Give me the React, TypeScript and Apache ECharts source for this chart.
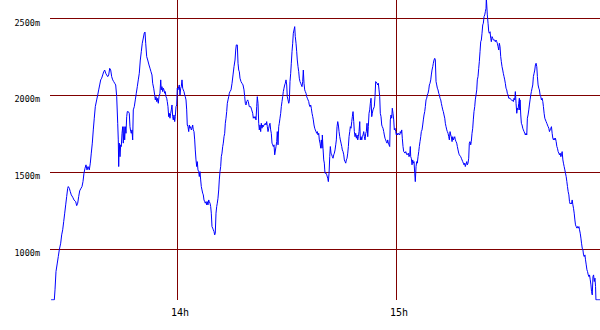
import React, { useEffect, useRef } from "react";
import * as echarts from "echarts";

// time in minutes after 13:00
const minutes = [
  25.5, 26.39, 26.58, 26.85, 27.21, 27.48, 27.76, 28.14, 28.41, 28.69,
  28.96, 29.24, 29.51, 29.78, 30.06, 30.22, 30.5, 30.77, 31.04, 31.43,
  31.78, 32.25, 32.52, 32.8, 33.07, 33.34, 33.62, 33.98, 34.25, 34.52,
  34.8, 35.07, 35.35, 35.62, 35.98, 36.25, 36.52, 36.8, 37.07, 37.34,
  37.62, 38.0, 38.28, 38.55, 38.82, 39.1, 39.37, 39.65, 39.92, 40.19,
  40.47, 40.74, 41.02, 41.29, 41.56, 41.84, 42.11, 42.39, 42.66, 42.93,
  43.21, 43.48, 43.76, 43.92, 44.03, 44.19, 44.39, 44.58, 44.74, 44.94,
  45.13, 45.29, 45.48, 45.67, 45.84, 46.03, 46.22, 46.39, 46.66, 46.93,
  47.12, 47.32, 47.48, 47.67, 47.86, 48.03, 48.3, 48.58, 48.85, 49.13,
  49.4, 49.67, 49.95, 50.22, 50.49, 50.77, 51.04, 51.24, 51.43, 51.7,
  51.98, 52.33, 52.6, 52.88, 53.15, 53.34, 53.62, 53.89, 54.06, 54.25,
  54.44, 54.61, 54.88, 55.07, 55.34, 55.54, 55.7, 55.89, 56.08, 56.25,
  56.44, 56.63, 56.79, 56.99, 57.18, 57.34, 57.53, 57.73, 57.89, 58.08,
  58.27, 58.44, 58.63, 58.82, 58.99, 59.18, 59.37, 59.53, 59.73, 59.92,
  60.08, 60.27, 60.47, 60.63, 60.82, 61.01, 61.18, 61.37, 61.56, 61.73,
  61.92, 62.11, 62.27, 62.47, 62.66, 62.82, 63.01, 63.21, 63.37, 63.56,
  63.75, 63.92, 64.11, 64.3, 64.47, 64.66, 64.85, 65.01, 65.21, 65.4,
  65.56, 65.75, 65.95, 66.11, 66.3, 66.49, 66.66, 66.85, 67.04, 67.21,
  67.4, 67.59, 67.75, 67.95, 68.14, 68.3, 68.49, 68.69, 68.85, 69.04,
  69.23, 69.4, 69.59, 69.78, 69.95, 70.14, 70.33, 70.49, 70.69, 70.88,
  71.04, 71.23, 71.43, 71.59, 71.78, 71.97, 72.14, 72.33, 72.52, 72.69,
  72.88, 73.07, 73.24, 73.43, 73.62, 73.79, 73.98, 74.17, 74.34, 74.52,
  74.8, 75.08, 75.35, 75.62, 75.9, 76.09, 76.25, 76.53, 76.72, 76.91,
  77.08, 77.26, 77.54, 77.81, 78.09, 78.36, 78.55, 78.72, 78.91, 79.1,
  79.37, 79.54, 79.81, 80.19, 80.47, 80.74, 80.91, 81.1, 81.29, 81.45,
  81.65, 81.84, 82.0, 82.2, 82.39, 82.55, 82.74, 82.93, 83.1, 83.29,
  83.48, 83.65, 83.84, 84.2, 84.39, 84.58, 84.75, 84.94, 85.13, 85.3,
  85.48, 85.67, 85.84, 86.03, 86.22, 86.39, 86.58, 86.77, 86.93, 87.13,
  87.32, 87.48, 87.68, 87.87, 88.03, 88.22, 88.41, 88.58, 88.77, 88.96,
  89.13, 89.32, 89.51, 89.67, 89.87, 90.06, 90.22, 90.42, 90.61, 90.77,
  90.96, 91.15, 91.32, 91.51, 91.7, 91.87, 92.06, 92.25, 92.41, 92.61,
  92.8, 92.96, 93.16, 93.35, 93.51, 93.7, 93.89, 94.06, 94.25, 94.44,
  94.61, 94.8, 94.99, 95.16, 95.35, 95.54, 95.71, 95.9, 96.09, 96.25,
  96.45, 96.64, 96.8, 97.0, 97.19, 97.35, 97.54, 97.73, 97.9, 98.09,
  98.28, 98.45, 98.64, 98.83, 99.0, 99.19, 99.38, 99.54, 99.74, 99.82,
  100.01, 100.2, 100.37, 100.48, 100.56, 100.84, 101.03, 101.3, 101.47, 101.66,
  101.85, 102.01, 102.2, 102.4, 102.56, 102.75, 102.94, 103.11, 103.3, 103.49,
  103.66, 103.85, 104.04, 104.21, 104.4, 104.59, 104.75, 104.95, 105.14, 105.3,
  105.49, 105.69, 105.85, 106.04, 106.23, 106.4, 106.59, 106.78, 106.95, 107.14,
  107.33, 107.49, 107.68, 107.88, 108.04, 108.23, 108.42, 108.59, 108.78, 108.97,
  109.14, 109.33, 109.52, 109.69, 109.88, 110.07, 110.23, 110.42, 110.62, 110.78,
  110.97, 111.16, 111.33, 111.52, 111.71, 111.87, 112.06, 112.26, 112.42, 112.61,
  112.8, 112.97, 113.16, 113.35, 113.51, 113.7, 114.06, 114.25, 114.44, 114.61,
  114.8, 114.99, 115.16, 115.35, 115.54, 115.7, 115.9, 116.09, 116.25, 116.44,
  116.64, 116.8, 116.99, 117.18, 117.35, 117.54, 117.73, 117.9, 118.09, 118.28,
  118.44, 118.64, 118.83, 118.99, 119.18, 119.38, 119.54, 119.73, 119.92, 120.09,
  120.28, 120.47, 120.64, 121.02, 121.18, 121.38, 121.57, 121.73, 121.92, 122.12,
  122.28, 122.47, 122.66, 122.83, 123.02, 123.38, 123.57, 123.76, 123.92, 124.03,
  124.2, 124.39, 124.58, 124.75, 124.94, 125.13, 125.29, 125.49, 125.68, 125.84,
  126.04, 126.23, 126.39, 126.58, 126.78, 126.94, 127.13, 127.32, 127.49, 127.68,
  127.87, 128.04, 128.23, 128.42, 128.59, 128.78, 128.97, 129.14, 129.32, 129.52,
  129.68, 129.87, 130.07, 130.23, 130.42, 130.61, 130.78, 130.97, 131.16, 131.33,
  131.52, 131.71, 131.88, 132.07, 132.26, 132.42, 132.62, 132.81, 132.97, 133.16,
  133.36, 133.52, 133.71, 133.91, 134.07, 134.26, 134.45, 134.62, 134.81, 135.0,
  135.16, 135.36, 135.55, 135.71, 136.09, 136.26, 136.45, 136.64, 136.81, 137.0,
  137.19, 137.35, 137.73, 137.9, 138.09, 138.28, 138.45, 138.64, 138.83, 138.99,
  139.18, 139.38, 139.54, 139.73, 139.92, 140.09, 140.28, 140.47, 140.63, 140.83,
  141.02, 141.18, 141.37, 141.57, 141.73, 141.92, 142.12, 142.28, 142.47, 142.66,
  142.83, 143.02, 143.21, 143.38, 143.57, 143.76, 143.93, 144.12, 144.31, 144.48,
  144.67, 144.75, 144.94, 145.02, 145.22, 145.41, 145.57, 145.77, 145.96, 146.12,
  146.31, 146.51, 146.67, 147.05, 147.22, 147.41, 147.6, 147.76, 147.96, 148.15,
  148.31, 148.5, 148.69, 148.86, 149.05, 149.24, 149.4, 149.6, 149.79, 149.95,
  150.15, 150.34, 150.5, 150.7, 150.89, 151.24, 151.6, 151.8, 151.99, 152.15,
  152.34, 152.54, 152.7, 152.89, 153.09, 153.25, 153.44, 153.63, 153.8, 153.91,
  153.99, 154.18, 154.35, 154.54, 154.73, 154.9, 155.09, 155.28, 155.44, 155.64,
  155.83, 155.99, 156.18, 156.38, 156.54, 156.73, 156.92, 157.09, 157.28, 157.47,
  157.64, 157.83, 158.02, 158.19, 158.38, 158.57, 158.74, 158.93, 159.12, 159.29,
  159.48, 159.67, 159.84, 160.03, 160.22, 160.39, 160.58, 160.77, 161.13, 161.32,
  161.49, 161.68, 161.87, 162.04, 162.23, 162.42, 162.59, 162.78, 162.97, 163.14,
  163.33, 163.52, 163.68, 163.88, 164.07, 164.23, 164.43, 164.62, 164.78, 164.97,
  165.17, 165.33, 165.52, 165.72, 165.88, 166.07, 166.26, 166.43, 166.62, 166.81,
  166.98, 167.17, 167.36, 167.53, 167.72, 167.91, 168.08, 168.27, 168.46, 168.63,
  168.82, 169.01, 169.18, 169.37, 169.56, 169.73, 169.92, 170.11, 170.28, 170.47,
  170.66, 170.83, 171.02, 171.21, 171.38, 171.57, 171.76, 171.92, 172.12, 172.31,
  172.47, 172.67, 172.86, 173.02, 173.22, 173.41, 173.57, 173.77, 173.96, 174.13,
  174.32, 174.51, 174.67, 174.78, 175.89,
];

// altitude in metres
const altitudes = [
  669, 669, 734, 853, 908, 950, 994, 1037, 1091, 1124,
  1177, 1232, 1286, 1340, 1394, 1405, 1394, 1372, 1351, 1336,
  1318, 1307, 1281, 1297, 1340, 1377, 1390, 1405, 1437, 1492,
  1524, 1546, 1513, 1535, 1513, 1557, 1622, 1687, 1773, 1849,
  1924, 1968, 2000, 2033, 2065, 2098, 2109, 2130, 2151, 2162,
  2141, 2130, 2119, 2130, 2173, 2162, 2119, 2098, 2087, 2076,
  2065, 1989, 1816, 1708, 1535, 1687, 1599, 1676, 1665, 1751,
  1794, 1687, 1794, 1708, 1794, 1751, 1859, 1892, 1892, 1881,
  1794, 1762, 1751, 1773, 1708, 1903, 1924, 1968, 2011, 2054,
  2098, 2141, 2227, 2281, 2336, 2370, 2403, 2409, 2336, 2249,
  2227, 2195, 2174, 2151, 2130, 2076, 2044, 2000, 1968, 1989,
  1957, 1979, 1946, 1989, 2011, 2098, 2033, 2054, 2022, 2044,
  2033, 2011, 2022, 1989, 1979, 1957, 1924, 1859, 1881, 1849,
  1881, 1903, 1935, 1859, 1838, 1870, 1827, 1859, 1924, 1935,
  2044, 2033, 2054, 2065, 2000, 2044, 2054, 2098, 2044, 2033,
  2022, 2000, 1989, 1968, 1903, 1805, 1794, 1762, 1805, 1784,
  1794, 1773, 1784, 1805, 1773, 1762, 1708, 1643, 1578, 1535,
  1567, 1513, 1502, 1470, 1502, 1448, 1405, 1383, 1362, 1351,
  1318, 1307, 1297, 1307, 1286, 1307, 1286, 1318, 1307, 1297,
  1275, 1232, 1145, 1135, 1124, 1113, 1091, 1102, 1232, 1275,
  1297, 1329, 1383, 1448, 1502, 1535, 1599, 1622, 1664, 1687,
  1729, 1751, 1816, 1849, 1892, 1946, 1968, 1989, 2011, 2022,
  2033, 2076, 2130, 2184, 2227, 2292, 2325, 2325, 2206, 2162,
  2151, 2109, 2087, 2076, 2065, 2033, 1989, 1946, 1935, 1957,
  1968, 1957, 1924, 1924, 1903, 1881, 1849, 1859, 1849, 1859,
  1838, 1924, 1989, 1946, 1816, 1773, 1805, 1762, 1816, 1784,
  1805, 1794, 1805, 1816, 1805, 1827, 1794, 1762, 1784, 1805,
  1816, 1773, 1751, 1687, 1676, 1665, 1676, 1611, 1611, 1665,
  1697, 1762, 1676, 1794, 1816, 1849, 1881, 1924, 1957, 1989,
  2022, 2044, 2065, 2076, 2098, 2065, 1989, 1968, 1946, 1957,
  2087, 2141, 2206, 2281, 2336, 2401, 2422, 2444, 2379, 2336,
  2281, 2227, 2184, 2151, 2109, 2087, 2076, 2065, 2054, 2087,
  2162, 2076, 2033, 2022, 2011, 1989, 1979, 1968, 1957, 1935,
  1924, 1935, 1914, 1881, 1859, 1838, 1805, 1784, 1773, 1762,
  1751, 1762, 1740, 1751, 1708, 1687, 1654, 1708, 1654, 1740,
  1654, 1578, 1557, 1513, 1492, 1492, 1481, 1459, 1437, 1492,
  1599, 1665, 1622, 1611, 1599, 1589, 1611, 1622, 1643, 1676,
  1708, 1794, 1827, 1805, 1762, 1729, 1708, 1687, 1665, 1643,
  1632, 1611, 1578, 1567, 1557, 1578, 1589, 1622, 1665, 1729,
  1762, 1794, 1784, 1827, 1859, 1892, 1827, 1762, 1729, 1751,
  1719, 1740, 1708, 1729, 1762, 1827, 1708, 1729, 1708, 1729,
  1740, 1762, 1729, 1708, 1751, 1762, 1816, 1729, 1794, 1881,
  1903, 1946, 1979, 1859, 1881, 1903, 1924, 1989, 2087, 2087,
  2076, 2065, 2076, 2033, 1989, 1881, 1859, 1805, 1794, 1784,
  1762, 1740, 1719, 1708, 1697, 1687, 1708, 1687, 1676, 1665,
  1838, 1870, 1849, 1914, 1881, 1838, 1773, 1784, 1762, 1740,
  1751, 1740, 1751, 1740, 1762, 1751, 1773, 1719, 1665, 1632,
  1632, 1622, 1632, 1622, 1611, 1622, 1599, 1611, 1665, 1599,
  1589, 1546, 1578, 1557, 1567, 1492, 1437, 1535, 1567, 1557,
  1599, 1632, 1665, 1697, 1729, 1762, 1773, 1805, 1838, 1870,
  1892, 1924, 1968, 1979, 2000, 2011, 2033, 2065, 2076, 2098,
  2130, 2162, 2184, 2206, 2227, 2238, 2227, 2087, 2065, 2044,
  2033, 2011, 2000, 1979, 1968, 1946, 1924, 1903, 1892, 1870,
  1849, 1816, 1794, 1773, 1762, 1751, 1729, 1708, 1762, 1740,
  1729, 1697, 1729, 1708, 1729, 1708, 1697, 1687, 1665, 1643,
  1622, 1611, 1599, 1589, 1589, 1567, 1557, 1546, 1557, 1535,
  1535, 1567, 1546, 1557, 1589, 1687, 1697, 1676, 1697, 1751,
  1784, 1838, 1892, 1924, 1968, 2000, 2033, 2098, 2119, 2173,
  2216, 2281, 2346, 2357, 2401, 2455, 2466, 2509, 2520, 2541,
  2563, 2630, 2630, 2520, 2466, 2411, 2401, 2411, 2368, 2346,
  2379, 2368, 2357, 2357, 2346, 2357, 2346, 2336, 2314, 2292,
  2336, 2314, 2249, 2216, 2184, 2162, 2141, 2119, 2098, 2076,
  2044, 2033, 2011, 2000, 1979, 1979, 1968, 1963, 1968, 1957,
  1979, 1968, 2022, 1946, 1881, 1914, 1903, 1946, 1979, 1903,
  1968, 1870, 1816, 1805, 1784, 1773, 1762, 1751, 1740, 1751,
  1740, 1849, 1870, 1903, 1935, 1968, 2000, 2022, 2044, 2065,
  2119, 2141, 2162, 2195, 2206, 2184, 2119, 2065, 2044, 2033,
  2000, 1989, 1968, 1979, 1957, 1924, 1881, 1849, 1827, 1816,
  1805, 1794, 1784, 1762, 1773, 1784, 1794, 1751, 1719, 1708,
  1719, 1708, 1719, 1697, 1665, 1654, 1632, 1622, 1611, 1622,
  1599, 1611, 1632, 1578, 1557, 1535, 1513, 1492, 1470, 1437,
  1405, 1372, 1351, 1307, 1292, 1297, 1292, 1318, 1286, 1264,
  1232, 1188, 1156, 1145, 1135, 1145, 1135, 1145, 1124, 1102,
  1070, 1037, 1005, 994, 961, 950, 961, 929, 896, 864,
  853, 831, 820, 831, 799, 766, 723, 701, 820, 831,
  788, 810, 755, 669, 669,
];

const altitudeTicks = [1000, 1500, 2000, 2500];
const hourTicks = [60, 120]; // 14h, 15h in minutes after 13:00
const timeRange = [25.21, 175.89];
const altitudeRange = [668, 2617];

export default function App() {
  const ref = useRef<HTMLDivElement>(null);

  useEffect(() => {
    if (!ref.current) return;
    const chart = echarts.init(ref.current, undefined, { renderer: "svg" });
    const data = minutes.map((t, i) => [t, altitudes[i]]);
    const gridLine = { color: "#800000", width: 1, type: "solid" as const };

    chart.setOption({
      animation: false,
      backgroundColor: "#ffffff",
      grid: { left: 50, right: 0, top: 0, bottom: 30, containLabel: false },
      xAxis: {
        type: "value",
        min: timeRange[0],
        max: timeRange[1],
        axisLine: { show: false },
        axisTick: { show: false },
        splitLine: { show: false },
        axisLabel: {
          customValues: hourTicks,
          formatter: (v: number) => `${Math.round(13 + v / 60)}h`,
          fontFamily: "DejaVu Sans Mono",
          fontSize: 10,
          color: "#000",
          margin: 7,
          padding: [0, 0, 0, 6],
        },
      },
      yAxis: {
        type: "value",
        min: altitudeRange[0],
        max: altitudeRange[1],
        axisLine: { show: false },
        axisTick: { show: false },
        splitLine: { show: false },
        axisLabel: {
          customValues: altitudeTicks,
          formatter: (v: number) => `${v}m`,
          fontFamily: "DejaVu Sans Mono",
          fontSize: 8.5,
          color: "#000",
          margin: 10,
          verticalAlign: "top",
        },
      },
      series: [
        {
          type: "line",
          data,
          showSymbol: false,
          symbol: "none",
          clip: true,
          lineStyle: { color: "#0000ff", width: 1 },
          z: 3,
          markLine: {
            silent: true,
            symbol: "none",
            z: 1,
            label: { show: false },
            lineStyle: gridLine,
            data: [
              ...altitudeTicks.map((v) => ({ yAxis: v })),
              ...hourTicks.map((v) => ({ xAxis: v })),
            ],
          },
        },
      ],
    });

    return () => chart.dispose();
  }, []);

  return (
    <div
      ref={ref}
      style={{ position: "absolute", left: 0, top: 0, width: 600, height: 330 }}
    />
  );
}
